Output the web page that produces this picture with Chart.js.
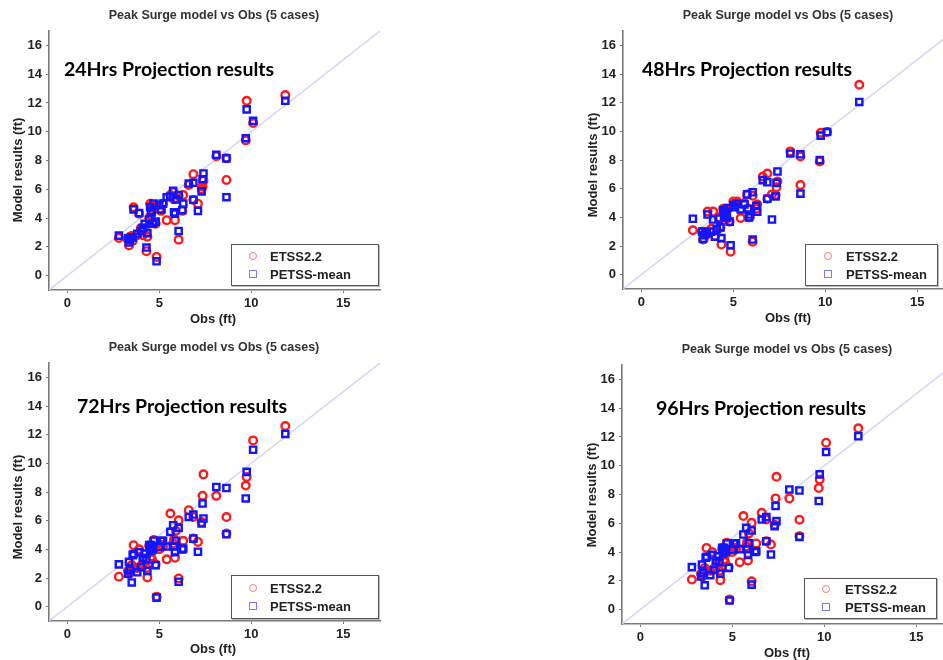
<!DOCTYPE html>
<html>
<head>
<meta charset="utf-8">
<script src="https://cdn.jsdelivr.net/npm/chart.js@4.4.1/dist/chart.umd.min.js"></script>
<style>
  html,body{margin:0;padding:0;background:#fff;width:943px;height:660px;overflow:hidden;position:relative}
  canvas{position:absolute}
  .t{position:absolute;font-family:"Liberation Sans",Arial,sans-serif;font-weight:bold;color:#333;white-space:nowrap;transform:translate(-50%,-50%)}
  .ttl{font-size:12.5px}
  .xl{font-size:13px;color:#222}
  .yl{font-size:13px;color:#222;transform:translate(-50%,-50%) rotate(-90deg)}
  .big{position:absolute;font-family:Lato,"Open Sans",sans-serif;font-weight:bold;font-size:19.5px;color:#000;white-space:nowrap;transform:translateY(-50%)}
  .leg{position:absolute;background:#fff;border:1px solid #555;box-shadow:1px 1px 0 #bbb;font-family:"Liberation Sans",Arial,sans-serif;font-weight:bold;font-size:13px;color:#222}
  .leg div{position:absolute;left:38px;transform:translateY(-50%)}
  .leg i{position:absolute;width:6px;height:6px;border:1.5px solid;transform:translate(-50%,-50%)}
</style>
</head>
<body>
<canvas id="c24" width="390" height="330" style="left:0;top:0"></canvas>
<canvas id="c48" width="390" height="330" style="left:575px;top:0"></canvas>
<canvas id="c72" width="390" height="330" style="left:0;top:330px"></canvas>
<canvas id="c96" width="390" height="330" style="left:574px;top:330px"></canvas>

<div class="t ttl" style="left:214px;top:15px">Peak Surge model vs Obs (5 cases)</div>
<div class="t ttl" style="left:788px;top:15px">Peak Surge model vs Obs (5 cases)</div>
<div class="t ttl" style="left:214px;top:347px">Peak Surge model vs Obs (5 cases)</div>
<div class="t ttl" style="left:787px;top:349px">Peak Surge model vs Obs (5 cases)</div>

<div class="t yl" style="left:17px;top:170px">Model results (ft)</div>
<div class="t yl" style="left:592px;top:165px">Model results (ft)</div>
<div class="t yl" style="left:17px;top:507px">Model results (ft)</div>
<div class="t yl" style="left:591px;top:495px">Model results (ft)</div>

<div class="t xl" style="left:213px;top:318px">Obs (ft)</div>
<div class="t xl" style="left:788px;top:317px">Obs (ft)</div>
<div class="t xl" style="left:213px;top:648px">Obs (ft)</div>
<div class="t xl" style="left:787px;top:652px">Obs (ft)</div>

<div class="big" style="left:64px;top:68px">24Hrs Projection results</div>
<div class="big" style="left:642px;top:68px">48Hrs Projection results</div>
<div class="big" style="left:77px;top:405px">72Hrs Projection results</div>
<div class="big" style="left:656px;top:407px">96Hrs Projection results</div>

<div class="leg" style="left:231px;top:244px;width:146px;height:40px"><i style="left:21px;top:11px;border-radius:50%;border-color:#f77"></i><div style="top:11px">ETSS2.2</div><i style="left:21px;top:29px;border-color:#77f"></i><div style="top:29px">PETSS-mean</div></div>
<div class="leg" style="left:805px;top:244px;width:131px;height:40px"><i style="left:22px;top:11px;border-radius:50%;border-color:#f77"></i><div style="left:40px;top:11px">ETSS2.2</div><i style="left:22px;top:29px;border-color:#77f"></i><div style="left:40px;top:29px">PETSS-mean</div></div>
<div class="leg" style="left:231px;top:575px;width:146px;height:42px"><i style="left:21px;top:12px;border-radius:50%;border-color:#f77"></i><div style="top:12px">ETSS2.2</div><i style="left:21px;top:30px;border-color:#77f"></i><div style="top:30px">PETSS-mean</div></div>
<div class="leg" style="left:804px;top:578px;width:131px;height:39px"><i style="left:21px;top:10px;border-radius:50%;border-color:#f77"></i><div style="left:40px;top:10px">ETSS2.2</div><i style="left:21px;top:28px;border-color:#77f"></i><div style="left:40px;top:28px">PETSS-mean</div></div>

<script>
/* ===== DATA ===== */
// observed peak surge per station (ft), same stations in every panel
const OBS=[11.85,10.1,9.75,9.7,8.65,8.65,8.1,7.4,7.35,7.3,7.1,6.85,6.6,6.3,6.25,6.05,6.05,5.85,5.8,5.75,5.6,5.4,5.2,5.0,4.85,4.8,4.7,4.6,4.55,4.5,4.35,4.3,4.2,4.1,4.0,3.9,3.8,3.6,3.55,3.4,3.35,3.3,2.8,4.45,4.65,5.1,5.9,3.5,6.85];

const ETSS_24=[12.55,10.6,12.15,9.4,8.15,6.65,8.3,6.6,6.2,6.0,5.0,7.05,6.3,5.6,4.5,2.5,5.55,3.85,5.3,5.8,5.6,3.85,5.0,4.6,1.3,3.6,4.8,4.9,4.2,5.0,2.7,1.7,3.3,2.8,3.3,4.3,2.8,4.75,2.4,2.7,2.1,2.5,2.62,4.0,3.7,4.5,5.4,2.75,5.25];
const PETSS_24=[12.15,10.75,11.55,9.55,8.15,5.45,8.4,7.1,6.7,5.85,4.5,6.45,6.4,5.0,4.55,3.1,5.6,4.3,4.4,5.9,5.5,5.45,5.0,4.9,1.0,3.75,5.0,4.5,4.35,4.75,2.95,1.95,3.6,3.3,3.1,4.35,2.9,4.6,2.65,2.5,2.3,2.6,2.78,3.9,3.6,4.6,5.3,2.65,5.27];

const ETSS_48=[13.25,9.95,9.9,7.9,8.25,6.25,8.6,6.5,6.1,5.55,5.6,7.05,6.85,4.9,4.6,2.3,5.5,4.0,4.6,5.6,5.0,3.95,5.1,5.1,1.6,3.7,4.6,4.5,4.2,4.4,2.1,3.3,4.0,3.1,2.7,4.4,3.2,4.4,2.9,2.5,2.45,3.0,3.1,4.6,3.9,5.0,4.0,3.0,5.3];
const PETSS_48=[12.05,9.95,9.7,8.0,8.4,5.65,8.45,7.2,6.4,5.45,3.85,6.45,6.6,4.4,4.8,2.45,5.75,4.0,4.6,5.6,4.9,4.55,4.95,4.85,2.05,3.7,4.65,4.4,4.3,4.1,2.55,3.3,3.9,3.2,2.65,3.85,3.0,4.2,2.95,2.75,2.5,3.0,3.9,4.5,4.0,4.7,4.2,2.85,5.3];

const ETSS_72=[12.6,11.6,9.05,8.45,6.25,5.1,7.73,9.23,7.73,5.9,4.52,6.26,6.73,4.6,4.05,1.97,6.03,3.41,4.7,4.4,6.5,3.3,4.2,4.0,0.7,2.95,4.65,3.3,3.5,4.0,2.04,2.7,3.3,2.8,2.85,4.0,2.7,4.29,2.7,2.44,2.3,2.5,2.09,4.25,3.9,4.3,5.3,2.9,4.75];
const PETSS_72=[12.05,10.95,9.4,7.55,8.28,5.05,8.35,6.15,7.2,5.8,3.83,6.43,6.26,4.06,4.0,1.74,5.5,3.8,4.2,5.68,5.22,4.2,4.6,4.15,0.63,2.9,4.6,4.1,4.3,3.9,2.5,3.3,3.7,3.4,2.75,3.8,2.4,3.67,3.6,2.55,3.13,2.3,2.95,4.3,4.0,4.6,4.6,1.69,4.75];

const ETSS_96=[12.6,11.6,9.05,8.45,6.25,5.1,7.73,9.23,7.73,5.9,4.52,6.26,6.73,4.6,4.05,1.97,6.03,3.41,4.7,4.4,6.5,3.3,4.2,4.0,0.7,2.95,4.65,3.3,3.5,4.0,2.04,2.7,3.3,2.8,2.85,4.0,2.7,4.29,2.7,2.44,2.3,2.5,2.09,4.25,3.9,4.3,5.3,2.9,4.75];
const PETSS_96=[12.05,10.95,9.4,7.55,8.28,5.05,8.35,6.15,7.2,5.8,3.83,6.43,6.26,4.06,4.0,1.74,5.5,3.8,4.2,5.68,5.22,4.2,4.6,4.15,0.63,2.9,4.6,4.1,4.3,3.9,2.5,3.3,3.7,3.4,2.75,3.8,2.4,3.67,3.6,2.55,3.13,2.3,2.95,4.3,4.0,4.6,4.6,1.69,4.75];

const AXIS_MIN=-1, AXIS_MAX=17;
const X_TICKS=[0,5,10,15];
const Y_TICKS=[0,2,4,6,8,10,12,14,16];

/* ===== CHARTS ===== */
const FONT={family:"'Liberation Sans', Arial, sans-serif",weight:"bold",size:13};

function pts(model){return OBS.map((x,i)=>({x:x,y:model[i]}))}

// box = plot area inside the canvas: left, right, top, bottom (px)
function makePanel(id,etss,petss,box){
  const cv=document.getElementById(id);
  const W=cv.width;
  const H=cv.height;
  return new Chart(cv,{
    type:"scatter",
    data:{datasets:[
      {label:"PETSS-mean",data:pts(petss),pointStyle:"rect",pointRadius:4.4,borderColor:"#1414ff",backgroundColor:"rgba(0,0,0,0)",borderWidth:2.4,order:0},
      {label:"ETSS2.2",data:pts(etss),pointStyle:"circle",pointRadius:3.8,borderColor:"#ff1a1a",backgroundColor:"rgba(0,0,0,0)",borderWidth:2.4,order:1},
      {type:"line",label:"1:1",data:[{x:AXIS_MIN,y:AXIS_MIN},{x:AXIS_MAX,y:AXIS_MAX}],borderColor:"#d4d4f8",borderWidth:1.4,pointRadius:0,order:2}
    ]},
    options:{
      responsive:false,animation:false,
      layout:{padding:{left:0,top:box.top,right:W-box.right,bottom:0}},
      plugins:{legend:{display:false},title:{display:false},tooltip:{enabled:false}},
      scales:{
        x:{type:"linear",min:AXIS_MIN,max:AXIS_MAX,
          afterBuildTicks:s=>{s.ticks=X_TICKS.map(v=>({value:v}))},
          afterFit:s=>{s.height=H-box.bottom},
          ticks:{font:FONT,color:"#222",padding:3},
          grid:{drawOnChartArea:false,tickLength:3,color:"#7a7a7a"},
          border:{color:"#7a7a7a",width:1.6}},
        y:{type:"linear",min:AXIS_MIN,max:AXIS_MAX,
          afterBuildTicks:s=>{s.ticks=Y_TICKS.map(v=>({value:v}))},
          afterFit:s=>{s.width=box.left},
          ticks:{font:FONT,color:"#222",padding:4},
          grid:{drawOnChartArea:false,tickLength:3,color:"#7a7a7a"},
          border:{color:"#7a7a7a",width:1.6}}
      }
    }
  });
}

makePanel("c24",ETSS_24,PETSS_24,{left:49,right:380,top:31,bottom:290});
makePanel("c48",ETSS_48,PETSS_48,{left:48,right:379,top:31,bottom:289});
makePanel("c72",ETSS_72,PETSS_72,{left:49,right:380,top:33,bottom:291});
makePanel("c96",ETSS_96,PETSS_96,{left:48,right:379,top:35,bottom:294});
</script>
</body>
</html>
